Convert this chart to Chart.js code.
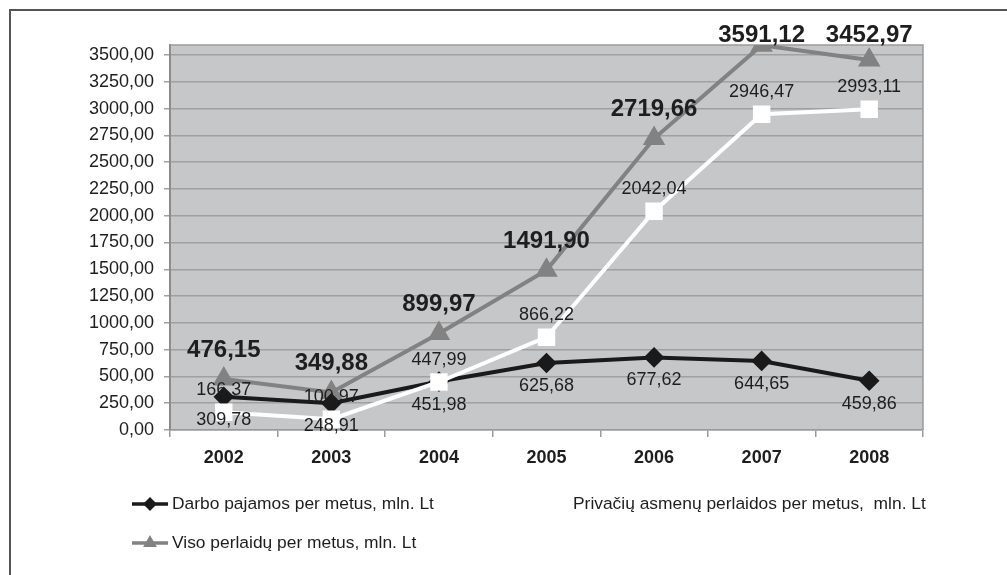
<!DOCTYPE html>
<html>
<head>
<meta charset="utf-8">
<script src="https://cdn.jsdelivr.net/npm/chart.js@4"></script>
<style>
  html, body { margin: 0; padding: 0; background: #fff; overflow: hidden; }
  #frame { position: absolute; left: 9px; top: 9px; width: 1100px; height: 700px; border: 2px solid #555; }
  #wrap { position: absolute; left: 0; top: 0; width: 1007px; height: 575px; }
</style>
</head>
<body>
<div id="frame"></div>
<div id="wrap"><canvas id="c"></canvas></div>
<script>
/* Darbo pajamos vs perlaidos, 2002–2008 */
const YEARS = ['2002', '2003', '2004', '2005', '2006', '2007', '2008'];
const DARBO = [309.78, 248.91, 451.98, 625.68, 677.62, 644.65, 459.86];
const PRIVACIU = [166.37, 100.97, 447.99, 866.22, 2042.04, 2946.47, 2993.11];
const VISO = [476.15, 349.88, 899.97, 1491.90, 2719.66, 3591.12, 3452.97];
const Y_MAX = 3593, Y_STEP = 250;

const FONT = '"Liberation Sans", Arial, sans-serif';
const TXT = '#1e1e1e';
const lt = v => v.toFixed(2).replace('.', ',');

const plotBg = {
  id: 'plotBg',
  beforeDraw(chart) {
    const { ctx, chartArea: a } = chart;
    ctx.save();
    ctx.fillStyle = '#c6c7c9';
    ctx.fillRect(a.left, a.top, a.right - a.left, a.bottom - a.top);
    ctx.restore();
  },
  beforeDatasetsDraw(chart) {
    const { ctx, chartArea: a } = chart;
    ctx.save();
    ctx.strokeStyle = '#9a9a9a'; ctx.lineWidth = 1.5;
    ctx.beginPath();
    ctx.moveTo(a.left, a.top); ctx.lineTo(a.right, a.top); ctx.lineTo(a.right, a.bottom);
    ctx.stroke();
    ctx.restore();
  }
};

/* value labels: bold above for totals, above for private, below for earnings */
const valueLabels = {
  id: 'valueLabels',
  afterDatasetsDraw(chart) {
    const ctx = chart.ctx;
    ctx.save();
    ctx.textAlign = 'center'; ctx.textBaseline = 'middle'; ctx.fillStyle = TXT;
    chart.data.datasets.forEach((d, i) => {
      chart.getDatasetMeta(i).data.forEach((p, j) => {
        let y;
        if (d.lbl === 'bold') { ctx.font = 'bold 24px ' + FONT; y = Math.max(p.y - 29, 35); }
        else if (d.lbl === 'above') { ctx.font = '18px ' + FONT; y = p.y - 22; }
        else { ctx.font = '18px ' + FONT; y = p.y + 23; }
        ctx.fillText(lt(d.data[j]), p.x, y);
      });
    });
    ctx.restore();
  }
};

/* legend in the original's two-column layout */
const LEGEND_POS = [[132, 504], [533, 504], [132, 543]];
const sideLegend = {
  id: 'sideLegend',
  afterDraw(chart) {
    const ctx = chart.ctx;
    ctx.save();
    chart.data.datasets.forEach((d, i) => {
      const [x, y] = LEGEND_POS[i];
      ctx.strokeStyle = d.borderColor; ctx.fillStyle = d.borderColor; ctx.lineWidth = 3.5;
      ctx.beginPath(); ctx.moveTo(x, y); ctx.lineTo(x + 36, y); ctx.stroke();
      Chart.helpers.drawPoint(ctx, { pointStyle: d.pointStyle, radius: 4.5, borderWidth: 1 }, x + 18, y);
      ctx.fillStyle = TXT; ctx.font = '17.4px ' + FONT;
      ctx.textAlign = 'left'; ctx.textBaseline = 'middle';
      ctx.fillText(d.label, x + 40, y);
    });
    ctx.restore();
  }
};

new Chart(document.getElementById('c'), {
  type: 'line',
  data: {
    labels: YEARS,
    datasets: [
      { label: 'Darbo pajamos per metus, mln. Lt', data: DARBO, lbl: 'below', order: 2,
        borderColor: '#1a1a1a', backgroundColor: '#1a1a1a', borderWidth: 4,
        pointStyle: 'rectRot', pointRadius: 7.5, tension: 0 },
      { label: 'Privačių asmenų perlaidos per metus,  mln. Lt', data: PRIVACIU, lbl: 'above', order: 1,
        borderColor: '#ffffff', backgroundColor: '#ffffff', borderWidth: 4,
        pointStyle: 'rect', pointRadius: 9.5, tension: 0 },
      { label: 'Viso perlaidų per metus, mln. Lt', data: VISO, lbl: 'bold', order: 3,
        borderColor: '#828282', backgroundColor: '#828282', borderWidth: 4,
        pointStyle: 'triangle', pointRadius: 9, tension: 0 }
    ]
  },
  options: {
    responsive: true, maintainAspectRatio: false, animation: false,
    layout: { padding: { left: 0, top: 45, right: 84, bottom: 95 } },
    plugins: { legend: { display: false }, tooltip: { enabled: false } },
    scales: {
      x: {
        offset: true,
        grid: { offset: true, drawOnChartArea: false, drawTicks: true, tickLength: 7, color: '#9a9a9a', lineWidth: 1.5 },
        border: { color: '#9a9a9a', width: 1.5 },
        ticks: { color: TXT, font: { family: FONT, size: 18, weight: 'bold' }, padding: 10 },
        afterFit: s => { s.height = 50; }
      },
      y: {
        min: 0, max: Y_MAX,
        afterBuildTicks: s => { s.ticks = s.ticks.filter(t => t.value % Y_STEP === 0); },
        grid: { color: '#a0a0a0', lineWidth: 1.5, tickLength: 6 },
        border: { color: '#8c8c8c', width: 2 },
        ticks: { stepSize: Y_STEP, includeBounds: false, color: TXT, font: { family: FONT, size: 18 }, padding: 10, callback: v => lt(v) },
        afterFit: s => { s.width = 170; }
      }
    }
  },
  plugins: [plotBg, valueLabels, sideLegend]
});
</script>
</body>
</html>
